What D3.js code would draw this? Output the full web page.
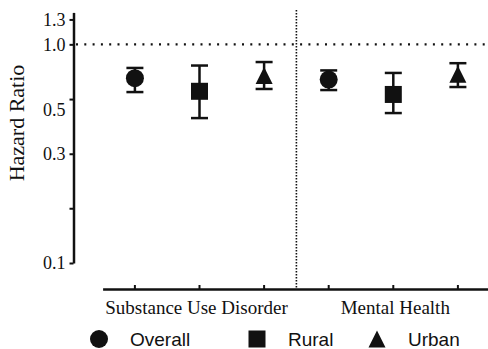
<!DOCTYPE html>
<html lang="en">
<head>
<meta charset="UTF-8">
<title>Hazard Ratio</title>
<script src="https://d3js.org/d3.v7.min.js"></script>
<style>
  body { margin: 0; background: #fff; }
  svg { display: block; }
  .serif { font-family: "Liberation Serif", "Times New Roman", serif; }
  .sans { font-family: "Liberation Sans", Arial, sans-serif; }
</style>
</head>
<body>
<svg id="chart" width="488" height="349"></svg>
<script>
// Data
const categories = ["Substance Use Disorder", "Mental Health"];
const groups = ["Overall", "Rural", "Urban"];
const hr    = [[0.70, 0.61, 0.72], [0.69, 0.59, 0.73]];
const lower = [[0.605, 0.46, 0.625], [0.618, 0.485, 0.638]];
const upper = [[0.78, 0.80, 0.83], [0.76, 0.74, 0.82]];
const tickMarks = [1.3, 1.0, 0.562, 0.316, 0.178, 0.1];
const tickLabels = ["1.3", "1.0", "", "0.3", "", "0.1"];
const extraLabel = [0.5];
const refLine = 1.0;

const svg = d3.select("#chart");

// scales
const y = d3.scaleLog().domain([0.1, 1.4]).range([263, 12.4]);
const keys = [];
categories.forEach((c, ci) => groups.forEach(g => keys.push(ci + "|" + g)));
const x = d3.scaleBand().domain(keys).range([102.6, 490.2]).padding(0);
const cx = k => x(k) + x.bandwidth() / 2;

// y axis
const yAxis = svg.append("g").attr("transform", "translate(73.5,0)")
  .call(d3.axisLeft(y).tickValues(tickMarks).tickFormat((d, i) => tickLabels[i])
    .tickSize(4).tickPadding(4).tickSizeOuter(0));
svg.append("g").attr("transform", "translate(73.5,0)")
  .call(d3.axisLeft(y).tickValues(extraLabel).tickFormat(d => "0.5")
    .tickSize(0).tickPadding(8).tickSizeOuter(0))
  .call(g => g.select(".domain").remove());
svg.selectAll("g .domain").attr("stroke", "#111").attr("stroke-width", 2.5);
svg.selectAll("g .tick line").attr("stroke", "#111").attr("stroke-width", 2);
svg.selectAll("g .tick text").attr("class", "serif").attr("font-size", 18).attr("fill", "#111");

// x axis
const xAxis = svg.append("g").attr("transform", "translate(0,289)")
  .call(d3.axisBottom(x).tickSize(-4).tickSizeOuter(0).tickFormat(""));
xAxis.select(".domain").attr("stroke", "#111").attr("stroke-width", 2.5);
xAxis.selectAll(".tick line").attr("stroke", "#111").attr("stroke-width", 2);

// y label
svg.append("text").attr("class", "serif")
  .attr("transform", "translate(24,123) rotate(-90)")
  .attr("text-anchor", "middle").attr("font-size", 22).attr("fill", "#111")
  .text("Hazard Ratio");

// reference line at HR = 1
svg.append("line")
  .attr("x1", 76).attr("x2", 488)
  .attr("y1", y(refLine)).attr("y2", y(refLine))
  .attr("stroke", "#111").attr("stroke-width", 2.2)
  .attr("stroke-dasharray", "2,6.3").attr("stroke-linecap", "butt");

// divider between categories
const divX = x(keys[3]);
svg.append("line")
  .attr("x1", divX).attr("x2", divX).attr("y1", 10).attr("y2", 288)
  .attr("stroke", "#111").attr("stroke-width", 1.6)
  .attr("stroke-dasharray", "1.5,1.5");

// category labels
categories.forEach((c, ci) => {
  const first = cx(ci + "|" + groups[0]), last = cx(ci + "|" + groups[2]);
  svg.append("text").attr("class", "serif")
    .attr("x", ci === 0 ? (first + last) / 2 - 3 : (first + last) / 2 + 2).attr("y", 314)
    .attr("text-anchor", "middle").attr("font-size", 19).attr("fill", "#111")
    .text(c);
});

// markers
const triPath = s => `M0,${-s}L${s},${s}L${-s},${s}Z`;
function marker(sel, g) {
  if (g === "Overall") sel.append("circle").attr("r", 9);
  else if (g === "Rural") sel.append("rect").attr("x", -8.5).attr("y", -8.5).attr("width", 17).attr("height", 17);
  else sel.append("path").attr("d", triPath(8.5));
  sel.attr("fill", "#111");
}

const points = [];
categories.forEach((c, ci) => groups.forEach((g, gi) => points.push({
  key: ci + "|" + g, group: g, v: hr[ci][gi], lo: lower[ci][gi], hi: upper[ci][gi]
})));

const pt = svg.selectAll(".pt").data(points).enter().append("g").attr("class", "pt");
pt.append("line")
  .attr("x1", d => cx(d.key)).attr("x2", d => cx(d.key))
  .attr("y1", d => y(d.lo)).attr("y2", d => y(d.hi))
  .attr("stroke", "#111").attr("stroke-width", 2.5);
["lo", "hi"].forEach(k => {
  pt.append("line")
    .attr("x1", d => cx(d.key) - 8.5).attr("x2", d => cx(d.key) + 8.5)
    .attr("y1", d => y(d[k])).attr("y2", d => y(d[k]))
    .attr("stroke", "#111").attr("stroke-width", 2.5);
});
pt.each(function(d) {
  const m = d3.select(this).append("g").attr("transform", `translate(${cx(d.key)},${y(d.v)})`);
  marker(m, d.group);
});

// legend
const legX = [99, 257, 377];
groups.forEach((g, i) => {
  const lg = svg.append("g").attr("transform", `translate(${legX[i]},339)`);
  marker(lg.append("g"), g);
  lg.append("text").attr("class", "sans")
    .attr("x", 31).attr("y", 7).attr("font-size", 19).attr("fill", "#111")
    .text(g);
});
</script>
</body>
</html>
